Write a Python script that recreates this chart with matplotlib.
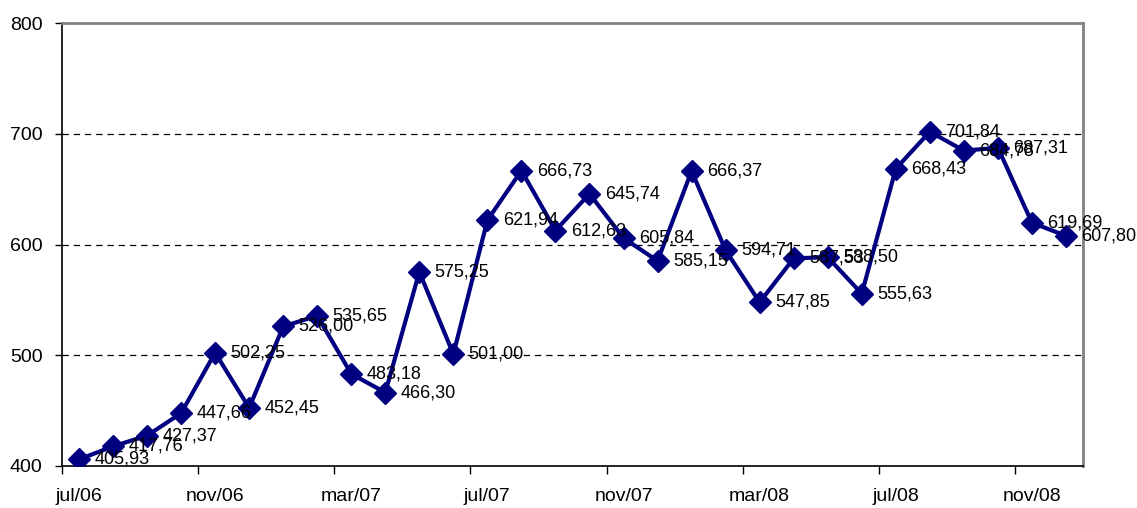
import matplotlib
matplotlib.use("Agg")
import matplotlib.pyplot as plt
import numpy as np

months = ["jul/06", "ago/06", "set/06", "out/06", "nov/06", "dez/06",
          "jan/07", "fev/07", "mar/07", "abr/07", "mai/07", "jun/07",
          "jul/07", "ago/07", "set/07", "out/07", "nov/07", "dez/07",
          "jan/08", "fev/08", "mar/08", "abr/08", "mai/08", "jun/08",
          "jul/08", "ago/08", "set/08", "out/08", "nov/08", "dez/08"]
values = [405.93, 417.76, 427.37, 447.66, 502.25, 452.45,
          526.00, 535.65, 483.18, 466.30, 575.25, 501.00,
          621.94, 666.73, 612.63, 645.74, 605.84, 585.15,
          666.37, 594.71, 547.85, 587.53, 588.50, 555.63,
          668.43, 701.84, 684.78, 687.31, 619.69, 607.80]

plt.rcParams['font.family'] = ['Liberation Sans', 'DejaVu Sans']

fig = plt.figure(figsize=(11.37, 5.08), dpi=100)
ax = fig.add_axes([0.0545, 0.0827, 0.898, 0.872])

x = np.arange(len(values))
ax.plot(x, values, color="#000080", lw=3.0, marker="D", markersize=11,
        markerfacecolor="#000080", markeredgecolor="#000080", zorder=3)

for xi, v in zip(x, values):
    ax.annotate(f"{v:.2f}".replace(".", ","), (xi, v), xytext=(11, 0),
                textcoords="offset points", ha="left", va="center",
                fontsize=13, color="black", zorder=4)

ax.set_ylim(400, 800)
ax.set_yticks([400, 500, 600, 700, 800])
ax.set_xlim(-0.5, len(values) - 0.5)

# labels every 4 months, tick marks on category boundaries
ax.set_xticks(x[::4])
ax.set_xticklabels(months[::4])
ax.set_xticks(np.arange(-0.5, len(values), 4), minor=True)
ax.tick_params(axis="x", which="major", length=0, pad=16, labelsize=14)
ax.tick_params(axis="x", which="minor", length=6, width=1, color="black", direction="out")
ax.tick_params(axis="y", length=5, width=1, pad=9, labelsize=14)

for yv in [500, 600, 700]:
    ax.axhline(yv, color="black", lw=0.9, ls=(0, (5, 4)), zorder=1)

ax.spines["left"].set_color("black")
ax.spines["bottom"].set_color("black")
ax.spines["left"].set_linewidth(1.2)
ax.spines["bottom"].set_linewidth(1.2)
ax.spines["top"].set_color("#808080")
ax.spines["right"].set_color("#808080")
ax.spines["top"].set_linewidth(2)
ax.spines["right"].set_linewidth(2)

fig.savefig("out.png", dpi=100)
